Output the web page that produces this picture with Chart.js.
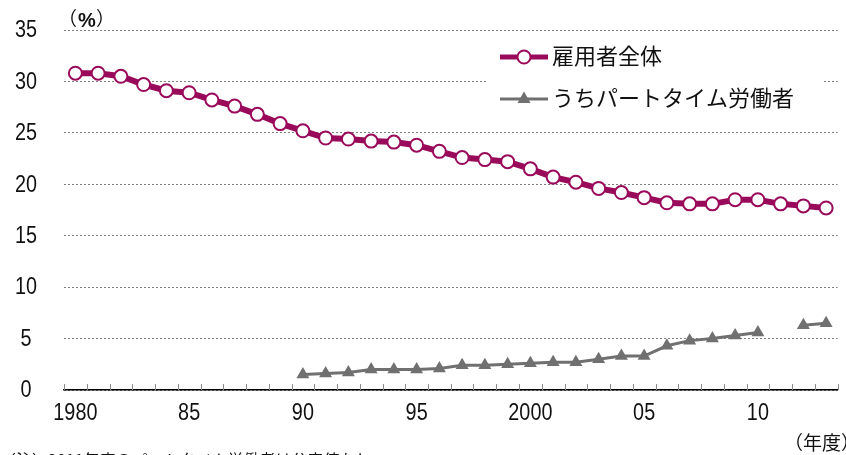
<!DOCTYPE html>
<html>
<head>
<meta charset="utf-8">
<script src="https://cdn.jsdelivr.net/npm/chart.js@4/dist/chart.umd.min.js"></script>
<style>
  html, body { margin: 0; padding: 0; background: #fff; }
  #wrap { width: 846px; height: 455px; position: relative; }
</style>
</head>
<body>
<div id="wrap"><canvas id="chart" width="846" height="455"></canvas></div>
<script>
// fiscal years 1980-2013
const years = [1980, 1981, 1982, 1983, 1984, 1985, 1986, 1987, 1988, 1989,
               1990, 1991, 1992, 1993, 1994, 1995, 1996, 1997, 1998, 1999,
               2000, 2001, 2002, 2003, 2004, 2005, 2006, 2007, 2008, 2009,
               2010, 2011, 2012, 2013];
const yearLabels = ['1980', '85', '90', '95', '2000', '05', '10'];

// 雇用者全体 (%)
const allEmployees = [30.8, 30.8, 30.5, 29.7, 29.1, 28.9, 28.2, 27.6, 26.8, 25.9,
                      25.2, 24.5, 24.4, 24.2, 24.1, 23.8, 23.2, 22.6, 22.4, 22.2,
                      21.5, 20.7, 20.2, 19.6, 19.2, 18.7, 18.2, 18.1, 18.1, 18.5,
                      18.5, 18.1, 17.9, 17.7];
// うちパートタイム労働者 (%)  1980s not available, 2011 missing
const partTime = [null, null, null, null, null, null, null, null, null, null,
                  1.5, 1.6, 1.7, 2.0, 2.0, 2.0, 2.1, 2.4, 2.4, 2.5,
                  2.6, 2.7, 2.7, 3.0, 3.3, 3.3, 4.3, 4.8, 5.0, 5.3,
                  5.6, null, 6.3, 6.5];

const seriesNames = ['雇用者全体', 'うちパートタイム労働者'];
const yTicks = [0, 5, 10, 15, 20, 25, 30, 35];

const MAGENTA = '#9a0a5b';
const GRAY = '#707070';
const NUM_FONT = "'Liberation Sans', Arial, sans-serif";
const JP_FONT = "'Noto Sans CJK JP', sans-serif";

// narrow tick labels (the original uses a condensed face)
function narrowText(ctx, text, x, y, align) {
  const sx = 0.86;
  ctx.save();
  ctx.translate(x, y);
  ctx.scale(sx, 1);
  ctx.textAlign = align;
  ctx.fillText(text, 0, 0);
  ctx.restore();
}

// small upward tick marks on the x axis + axis labels
const axisTicks = {
  id: 'axisTicks',
  afterDraw(chart) {
    const ctx = chart.ctx;
    const xs = chart.scales.x;
    const ys = chart.scales.y;
    const bottom = chart.chartArea.bottom;
    const half = (xs.getPixelForValue(1) - xs.getPixelForValue(0)) / 2;
    ctx.save();
    ctx.strokeStyle = '#8a8a8a';
    ctx.lineWidth = 1;
    ctx.beginPath();
    for (let i = 0; i <= years.length; i++) {
      const x = Math.round(xs.getPixelForValue(i) - half) + 0.5;
      ctx.moveTo(x, bottom);
      ctx.lineTo(x, bottom - 6);
    }
    ctx.stroke();

    ctx.fillStyle = '#111';
    ctx.font = '23px ' + NUM_FONT;
    ctx.textBaseline = 'middle';
    years.forEach((yr, i) => {
      if (i % 5 === 0) narrowText(ctx, yearLabels[i / 5], xs.getPixelForValue(i), bottom + 24, 'center');
    });
    yTicks.forEach(v => {
      narrowText(ctx, String(v), 26, ys.getPixelForValue(v) + 1, 'center');
    });
    ctx.restore();
  }
};

// legend box, unit labels and note
const extras = {
  id: 'extras',
  afterDraw(chart) {
    const ctx = chart.ctx;
    ctx.save();
    // legend background hides the grid line behind it
    ctx.fillStyle = '#fff';
    ctx.fillRect(487, 40, 336, 78);

    // row 1
    ctx.strokeStyle = MAGENTA;
    ctx.lineWidth = 5;
    ctx.beginPath();
    ctx.moveTo(500, 57);
    ctx.lineTo(548, 57);
    ctx.stroke();
    ctx.fillStyle = '#fff';
    ctx.lineWidth = 2;
    ctx.beginPath();
    ctx.arc(524, 57, 6.5, 0, Math.PI * 2);
    ctx.fill();
    ctx.stroke();

    // row 2
    ctx.strokeStyle = GRAY;
    ctx.lineWidth = 3;
    ctx.beginPath();
    ctx.moveTo(500, 99);
    ctx.lineTo(548, 99);
    ctx.stroke();
    ctx.fillStyle = GRAY;
    ctx.beginPath();
    ctx.moveTo(524, 91.5);
    ctx.lineTo(530.5, 103);
    ctx.lineTo(517.5, 103);
    ctx.closePath();
    ctx.fill();

    ctx.fillStyle = '#111';
    ctx.font = '22px ' + JP_FONT;
    ctx.textBaseline = 'middle';
    ctx.textAlign = 'left';
    ctx.fillText(seriesNames[0], 552, 56);
    ctx.fillText(seriesNames[1], 552, 98);

    // units
    ctx.font = '19px ' + JP_FONT;
    ctx.fillText('（', 58, 19);
    ctx.font = 'bold 20px ' + NUM_FONT;
    ctx.fillText('%', 78, 21);
    ctx.font = '19px ' + JP_FONT;
    ctx.fillText('）', 96, 19);
    ctx.fillText('（年度）', 784, 443);

    // note (cut off at the bottom edge)
    ctx.font = '16px ' + JP_FONT;
    ctx.textBaseline = 'top';
    ctx.fillText('（注）2011年度のパートタイム労働者は公表値なし。', 0, 452);
    ctx.restore();
  }
};

new Chart(document.getElementById('chart'), {
  type: 'line',
  data: {
    labels: years,
    datasets: [
      {
        label: seriesNames[0],
        data: allEmployees,
        borderColor: MAGENTA,
        borderWidth: 6,
        pointStyle: 'circle',
        pointRadius: 6.5,
        pointBorderWidth: 2,
        pointBackgroundColor: '#fff',
        pointBorderColor: MAGENTA,
        tension: 0
      },
      {
        label: seriesNames[1],
        data: partTime,
        borderColor: GRAY,
        borderWidth: 3,
        pointStyle: 'triangle',
        pointRadius: 7.5,
        pointBorderWidth: 0,
        pointBackgroundColor: GRAY,
        pointBorderColor: GRAY,
        spanGaps: false,
        tension: 0
      }
    ]
  },
  options: {
    responsive: false,
    animation: false,
    layout: { padding: { top: 30, right: 0, left: 0, bottom: 0 } },
    plugins: {
      legend: { display: false },
      tooltip: { enabled: false }
    },
    scales: {
      x: {
        type: 'category',
        offset: true,
        grid: { display: false, drawTicks: false },
        border: { display: true, color: '#000', width: 1.5 },
        ticks: { display: false },
        afterFit: s => { s.height = 65; }
      },
      y: {
        min: 0,
        max: 35,
        afterBuildTicks: s => { s.ticks = yTicks.map(v => ({ value: v })); },
        grid: {
          color: '#808080',
          lineWidth: 1,
          drawTicks: false
        },
        border: { display: false, dash: [2, 2] },
        ticks: { display: false },
        afterFit: s => { s.width = 64; }
      }
    }
  },
  plugins: [axisTicks, extras]
});
</script>
</body>
</html>
